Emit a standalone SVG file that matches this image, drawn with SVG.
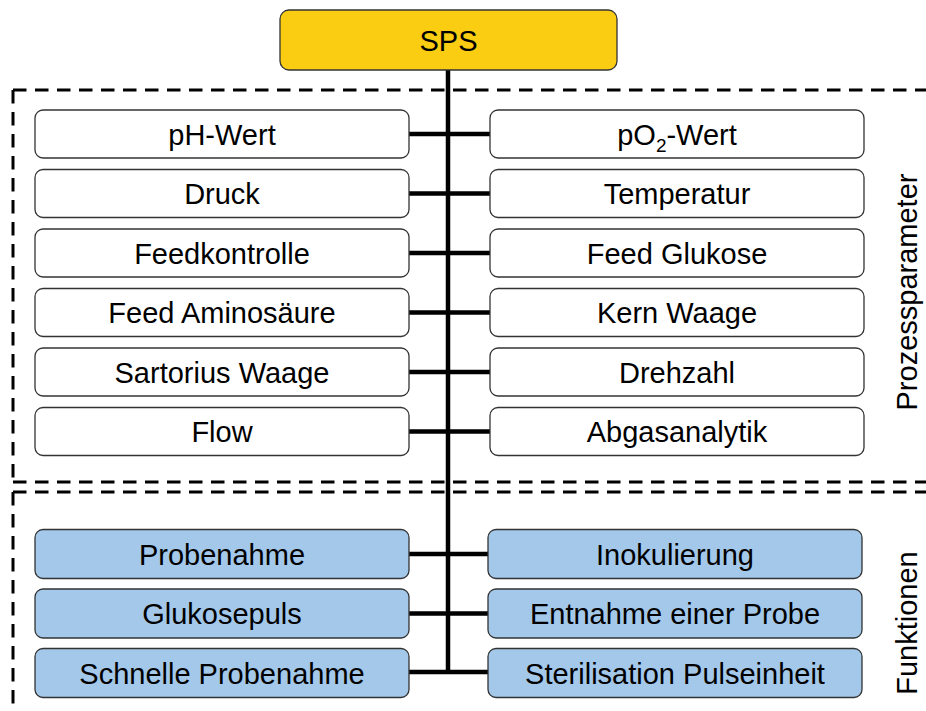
<svg xmlns="http://www.w3.org/2000/svg" width="926" height="711" viewBox="0 0 926 711">
<style>
.box{stroke:#333;stroke-width:1.3}
.w{fill:#fff}
.b{fill:#a3c8ea}
.y{fill:#fbcd12}
text{font-family:"Liberation Sans",Arial,sans-serif;font-size:29px;fill:#000;text-anchor:middle}
.dash{fill:none;stroke:#000;stroke-width:3;stroke-dasharray:13.5 8.5}
.con{stroke:#000;stroke-width:4.5;fill:none}
</style>
<rect width="926" height="711" fill="#fff"/>
<g id="groups">
<path class="dash" d="M13,90 H926 M13,90 V482 M13,482 H926"/>
<path class="dash" d="M13,492 H926 M13,492 V711"/>
<text transform="translate(917,292) rotate(-90)">Prozessparameter</text>
<text transform="translate(917,623) rotate(-90)">Funktionen</text>
</g>
<g id="connectors">
<path class="con" d="M448,70 V674"/>
<path class="con" d="M409,134 H490 M409,193.5 H490 M409,253 H490 M409,312.5 H490 M409,372 H490 M409,431.5 H490"/>
<path class="con" d="M409,554 H488 M409,613.5 H488 M409,672 H488"/>
</g>
<g id="sps"><rect class="box y" x="280" y="10" width="337" height="60" rx="9"/><text x="448.5" y="50.5">SPS</text></g>
<g id="ph"><rect class="box w" x="35" y="110" width="374" height="48" rx="8"/><text x="222" y="144.5">pH-Wert</text></g>
<g id="po2"><rect class="box w" x="490" y="110" width="374" height="48" rx="8"/><text x="677" y="144.5">pO<tspan font-size="19" dy="7">2</tspan><tspan dy="-7">-Wert</tspan></text></g>
<g id="druck"><rect class="box w" x="35" y="169.5" width="374" height="48" rx="8"/><text x="222" y="204">Druck</text></g>
<g id="temperatur"><rect class="box w" x="490" y="169.5" width="374" height="48" rx="8"/><text x="677" y="204">Temperatur</text></g>
<g id="feedkontrolle"><rect class="box w" x="35" y="229" width="374" height="48" rx="8"/><text x="222" y="263.5">Feedkontrolle</text></g>
<g id="feedglukose"><rect class="box w" x="490" y="229" width="374" height="48" rx="8"/><text x="677" y="263.5">Feed Glukose</text></g>
<g id="feedamino"><rect class="box w" x="35" y="288.5" width="374" height="48" rx="8"/><text x="222" y="323">Feed Aminosäure</text></g>
<g id="kernwaage"><rect class="box w" x="490" y="288.5" width="374" height="48" rx="8"/><text x="677" y="323">Kern Waage</text></g>
<g id="sartorius"><rect class="box w" x="35" y="348" width="374" height="48" rx="8"/><text x="222" y="382.5">Sartorius Waage</text></g>
<g id="drehzahl"><rect class="box w" x="490" y="348" width="374" height="48" rx="8"/><text x="677" y="382.5">Drehzahl</text></g>
<g id="flow"><rect class="box w" x="35" y="407.5" width="374" height="48" rx="8"/><text x="222" y="442">Flow</text></g>
<g id="abgas"><rect class="box w" x="490" y="407.5" width="374" height="48" rx="8"/><text x="677" y="442">Abgasanalytik</text></g>
<g id="probenahme"><rect class="box b" x="35" y="529.5" width="374" height="49" rx="8"/><text x="222" y="564.5">Probenahme</text></g>
<g id="inokulierung"><rect class="box b" x="488" y="529.5" width="374" height="49" rx="8"/><text x="675" y="564.5">Inokulierung</text></g>
<g id="glukosepuls"><rect class="box b" x="35" y="589" width="374" height="49" rx="8"/><text x="222" y="624">Glukosepuls</text></g>
<g id="entnahme"><rect class="box b" x="488" y="589" width="374" height="49" rx="8"/><text x="675" y="624">Entnahme einer Probe</text></g>
<g id="schnelle"><rect class="box b" x="35" y="648.5" width="374" height="49" rx="8"/><text x="222" y="683.5">Schnelle Probenahme</text></g>
<g id="sterilisation"><rect class="box b" x="488" y="648.5" width="374" height="49" rx="8"/><text x="675" y="683.5">Sterilisation Pulseinheit</text></g>
</svg>
